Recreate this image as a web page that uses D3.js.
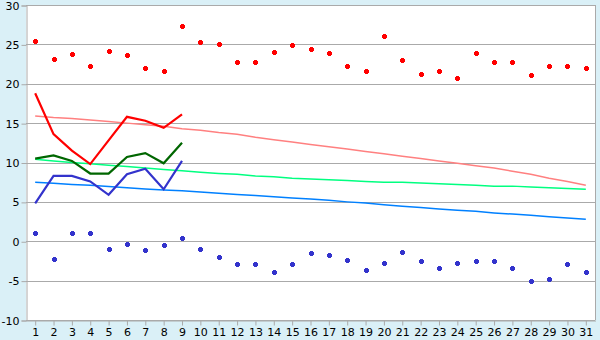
<!DOCTYPE html>
<html>
<head>
<meta charset="utf-8">
<script src="https://cdn.jsdelivr.net/npm/d3@7"></script>
<style>
  body { margin: 0; background: #daf0f7; }
  svg { display: block; }
  .tick text { font-family: "DejaVu Sans", Verdana, sans-serif; font-size: 11px; fill: #000; }
</style>
</head>
<body>
<div id="chart"></div>
<script>
var days = d3.range(1, 32);
var yTicks = [-10, -5, 0, 5, 10, 15, 20, 25, 30];

// record highs / lows per day
var maxRecord = [25.4, 23.2, 23.8, 22.2, 24.2, 23.6, 22.0, 21.6, 27.3, 25.3, 25.1, 22.7, 22.7, 24.0, 24.9, 24.4,
    23.9, 22.2, 21.6, 26.0, 23.0, 21.3, 21.6, 20.7, 23.9, 22.8, 22.8, 21.1, 22.2, 22.3, 22.0];
var minRecord = [1.1, -2.2, 1.0, 1.1, -1.0, -0.3, -1.1, -0.5, 0.4, -1.0, -2.0, -2.9, -2.9, -3.9, -2.9, -1.5,
    -1.7, -2.4, -3.7, -2.7, -1.4, -2.5, -3.4, -2.8, -2.5, -2.5, -3.4, -5.0, -4.8, -2.9, -3.9];

// current month (days 1-9)
var tMax = [18.8, 13.6, 11.5, 9.8, 12.8, 15.8, 15.3, 14.4, 16.1];
var tMean = [10.5, 10.9, 10.2, 8.6, 8.6, 10.7, 11.2, 9.9, 12.5];
var tMin = [4.8, 8.3, 8.3, 7.6, 5.9, 8.5, 9.2, 6.6, 10.2];

// normals
var normMax = [15.9, 15.7, 15.6, 15.4, 15.2, 15.0, 14.8, 14.6, 14.3, 14.1, 13.8, 13.6, 13.2, 12.9, 12.6, 12.3,
    12.0, 11.7, 11.4, 11.1, 10.8, 10.5, 10.2, 9.9, 9.6, 9.3, 8.9, 8.5, 8.0, 7.6, 7.1];
var normMean = [10.4, 10.2, 10.0, 9.85, 9.65, 9.5, 9.3, 9.1, 8.95, 8.75, 8.6, 8.5, 8.3, 8.2, 8.0, 7.9,
    7.8, 7.7, 7.6, 7.5, 7.5, 7.4, 7.3, 7.2, 7.1, 7.0, 7.0, 6.9, 6.8, 6.7, 6.6];
var normMin = [7.5, 7.35, 7.2, 7.1, 6.95, 6.8, 6.65, 6.5, 6.4, 6.25, 6.1, 5.95, 5.8, 5.65, 5.5, 5.35,
    5.2, 5.0, 4.85, 4.65, 4.45, 4.3, 4.1, 3.95, 3.8, 3.6, 3.45, 3.3, 3.1, 2.95, 2.8];

var width = 600,
    height = 340,
    margin = {top: 5, right: 5, bottom: 20, left: 26};

var svg = d3.select('#chart')
    .append('svg')
        .attr('width', width)
        .attr('height', height);

var x = d3.scaleBand()
    .domain(days)
    .range([margin.left, width - margin.right]);

var y = d3.scaleLinear()
    .domain([-10, 30])
    .range([height - margin.bottom, margin.top]);

function cx(d) { return x(d) + x.bandwidth() / 2; }

svg.append('rect')
    .attr('x', margin.left)
    .attr('y', margin.top)
    .attr('width', width - margin.left - margin.right)
    .attr('height', height - margin.top - margin.bottom)
    .attr('fill', '#fff');

// grid
svg.append('g')
    .selectAll('line')
    .data(yTicks)
    .enter()
    .append('line')
        .attr('x1', margin.left)
        .attr('x2', width - margin.right)
        .attr('y1', function(d){ return Math.round(y(d)) + 0.5; })
        .attr('y2', function(d){ return Math.round(y(d)) + 0.5; })
        .style('stroke', '#aaa')
        .style('stroke-width', 1);

// right border
svg.append('line')
    .attr('x1', width - margin.right + 0.5)
    .attr('x2', width - margin.right + 0.5)
    .attr('y1', margin.top)
    .attr('y2', height - margin.bottom)
    .style('stroke', '#aaa');

var yAxis = svg.append('g')
    .attr('transform', 'translate(' + (margin.left + 0.5) + ',0.5)')
    .call(d3.axisLeft(y).tickValues(yTicks).tickSize(5).tickPadding(2).tickFormat(d3.format('d')));
yAxis.selectAll('line, path').style('stroke', '#aaa');
yAxis.selectAll('text').text(function(d){ return d < 0 ? '-' + Math.abs(d) : d; });

var xAxis = svg.append('g')
    .attr('transform', 'translate(0.5,' + (height - margin.bottom + 0.5) + ')')
    .call(d3.axisBottom(x).tickSize(5).tickPadding(3).tickSizeOuter(0));
xAxis.selectAll('line, path').style('stroke', '#aaa');

// normals and current month
function drawLine(values, color, w) {
    var line = d3.line()
        .x(function(d, i){ return cx(days[i]); })
        .y(function(d){ return y(d); });
    svg.append('path')
        .datum(values)
        .attr('d', line)
        .style('fill', 'none')
        .style('stroke', color)
        .style('stroke-width', w);
}

drawLine(normMax, '#ff8080', 1.5);
drawLine(normMean, '#00ff80', 1.5);
drawLine(normMin, '#0080ff', 1.5);

drawLine(tMax, '#ff0000', 2.2);
drawLine(tMean, '#006600', 2.2);
drawLine(tMin, '#3333cc', 2.2);

// record markers, small pixel cross
var plus = 'M-1,-2h3v1h1v3h-1v1h-3v-1h-1v-3h1z';

function drawMarkers(values, color) {
    svg.append('g')
        .selectAll('path')
        .data(values)
        .enter()
        .append('path')
            .attr('d', plus)
            .attr('shape-rendering', 'crispEdges')
            .attr('transform', function(d, i){
                return 'translate(' + Math.round(cx(days[i])) + ',' + Math.round(y(d)) + ')';
            })
            .style('fill', color);
}

drawMarkers(maxRecord, '#ff0000');
drawMarkers(minRecord, '#3333cc');
</script>
</body>
</html>
